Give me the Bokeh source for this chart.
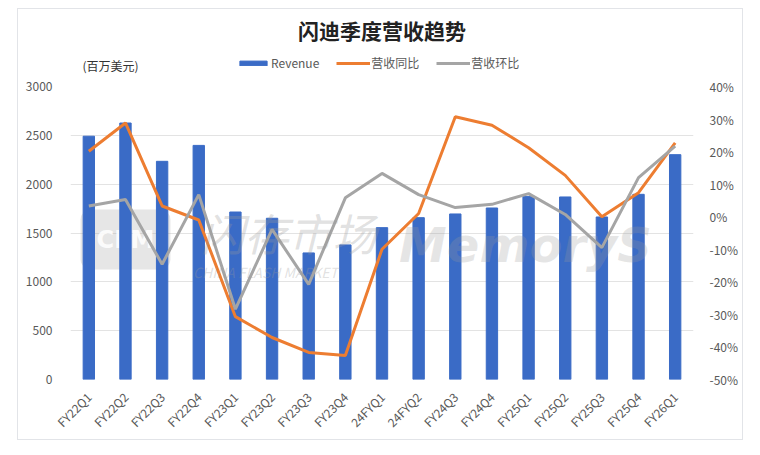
from bokeh.plotting import figure
from bokeh.models import (FactorRange, Range1d, LinearAxis, FixedTicker, PrintfTickFormatter,
                          Legend, LegendItem, Label, ColumnDataSource)
from bokeh.layouts import column
from bokeh.embed import file_html
from bokeh.resources import INLINE
import math

quarters = ["FY22Q1", "FY22Q2", "FY22Q3", "FY22Q4", "FY23Q1", "FY23Q2", "FY23Q3", "FY23Q4",
            "24FYQ1", "24FYQ2", "FY24Q3", "FY24Q4", "FY25Q1", "FY25Q2", "FY25Q3", "FY25Q4", "FY26Q1"]
revenue = [2491, 2626, 2234, 2397, 1715, 1651, 1296, 1378, 1555, 1657, 1695, 1756, 1875, 1869, 1664, 1896, 2302]
yoy_pct = [20.1, 28.8, 3.3, -1.0, -30.7, -37.1, -41.7, -42.6, -10.0, 1.0, 30.7, 28.1, 21.2, 12.7, 0.0, 7.4, 22.7]
qoq_pct = [3.3, 5.3, -14.6, 6.8, -28.4, -3.9, -20.8, 5.8, 13.3, 6.8, 2.8, 3.8, 7.1, 0.7, -9.5, 12.0, 21.7]
left_ticks = [0, 500, 1000, 1500, 2000, 2500, 3000]
right_ticks = [-50, -40, -30, -20, -10, 0, 10, 20, 30, 40]

FONT = "Noto Sans CJK SC"
BLUE = "#3A6BC6"
ORANGE = "#ED7D31"
GRAY = "#A5A5A5"
TXT = "#595959"
W = 724
HH = 68

src = ColumnDataSource(dict(q=quarters, rev=revenue, yoy=yoy_pct, qoq=qoq_pct))

# ---------- main chart ----------
p = figure(x_range=FactorRange(*quarters), y_range=Range1d(0, 3000),
           width=W, height=362, output_backend="svg", toolbar_location=None,
           min_border_left=52, min_border_right=49, min_border_top=9, min_border_bottom=60)
p.background_fill_color = "white"
p.border_fill_color = "white"
p.outline_line_color = None
p.extra_y_ranges = {"pct": Range1d(-50, 40)}

# watermark (behind data)
p.add_layout(Label(x=55, y=140, x_units="screen", y_units="screen", text="CFM",
                   text_font="DejaVu Sans", text_font_size="24px", text_font_style="bold",
                   text_color="#ffffff", text_alpha=0.9, text_align="center", text_baseline="middle",
                   background_fill_color="#9a9a9a", background_fill_alpha=0.25,
                   padding=16, border_radius=10, level="underlay"))
p.add_layout(Label(x=218, y=148, x_units="screen", y_units="screen", text="闪存市场",
                   text_font=FONT, text_font_size="44px", text_font_style="italic",
                   text_color="#9a9a9a", text_alpha=0.3, text_align="center", text_baseline="middle"))
p.add_layout(Label(x=195, y=108, x_units="screen", y_units="screen", text="CHINA FLASH MARKET",
                   text_font=FONT, text_font_size="14px", text_font_style="italic",
                   text_color="#9a9a9a", text_alpha=0.3, text_align="center", text_baseline="middle"))
p.add_layout(Label(x=455, y=135, x_units="screen", y_units="screen", text="MemoryS",
                   text_font="DejaVu Sans", text_font_size="48px", text_font_style="bold italic",
                   text_color="#9a9a9a", text_alpha=0.25, text_align="center", text_baseline="middle"))

bars = p.vbar(x="q", top="rev", width=0.31, color=BLUE, source=src)
l_yoy = p.line(x="q", y="yoy", y_range_name="pct", line_color=ORANGE, line_width=3, source=src)
l_qoq = p.line(x="q", y="qoq", y_range_name="pct", line_color=GRAY, line_width=3, source=src)

p.yaxis.ticker = FixedTicker(ticks=left_ticks)
for ax in [p.yaxis[0], p.xaxis[0]]:
    ax.axis_line_color = None
    ax.major_tick_line_color = None
    ax.minor_tick_line_color = None
    ax.major_label_text_font = FONT
    ax.major_label_text_font_size = "12px"
    ax.major_label_text_color = TXT
p.yaxis.major_label_standoff = 12
p.xaxis.major_label_orientation = math.pi / 4
p.xaxis.major_label_standoff = 9

ra = LinearAxis(y_range_name="pct", ticker=FixedTicker(ticks=right_ticks),
                formatter=PrintfTickFormatter(format="%d%%"))
ra.axis_line_color = None
ra.major_tick_line_color = None
ra.minor_tick_line_color = None
ra.major_label_text_font = FONT
ra.major_label_text_font_size = "12px"
ra.major_label_text_color = TXT
ra.major_label_standoff = 10
p.add_layout(ra, "right")

p.xgrid.grid_line_color = None
p.ygrid.grid_line_color = "#E3E3E3"
p.ygrid.grid_line_width = 1

# ---------- header (title, unit, legend) ----------
h = figure(x_range=Range1d(0, W), y_range=Range1d(0, HH), width=W, height=HH,
           output_backend="svg", toolbar_location=None,
           min_border=0, min_border_left=0, min_border_right=0, min_border_top=0, min_border_bottom=0)
h.axis.visible = False
h.grid.grid_line_color = None
h.outline_line_color = None
h.background_fill_color = "white"
h.border_fill_color = "white"

h.add_layout(Label(x=W / 2, y=HH - 20, text="闪迪季度营收趋势",
                   text_font=FONT, text_font_size="21px", text_font_style="bold",
                   text_color="#222222", text_align="center", text_baseline="middle"))
h.add_layout(Label(x=14, y=12, text="(百万美元)",
                   text_font=FONT, text_font_size="12px",
                   text_color="#333333", text_align="left", text_baseline="middle"))

hb = h.vbar(x=[-100], top=[-100], width=1, color=BLUE)
hy = h.line(x=[-100, -99], y=[-100, -100], line_color=ORANGE, line_width=3)
hq = h.line(x=[-100, -99], y=[-100, -100], line_color=GRAY, line_width=3)
legend = Legend(items=[LegendItem(label="Revenue", renderers=[hb]),
                       LegendItem(label="营收同比", renderers=[hy]),
                       LegendItem(label="营收环比", renderers=[hq])],
                orientation="horizontal", location=(166, 6),
                label_text_font=FONT, label_text_font_size="12px", label_text_color=TXT,
                glyph_width=34, glyph_height=6, spacing=17, label_standoff=1,
                padding=0, margin=0, border_line_color=None, background_fill_alpha=0)
h.add_layout(legend, "center")

layout = column(h, p, spacing=0,
                styles={"margin": "8px 0 0 17px", "border": "1px solid #e2e4e8"})

open("out.html", "w").write(file_html(layout, INLINE))
